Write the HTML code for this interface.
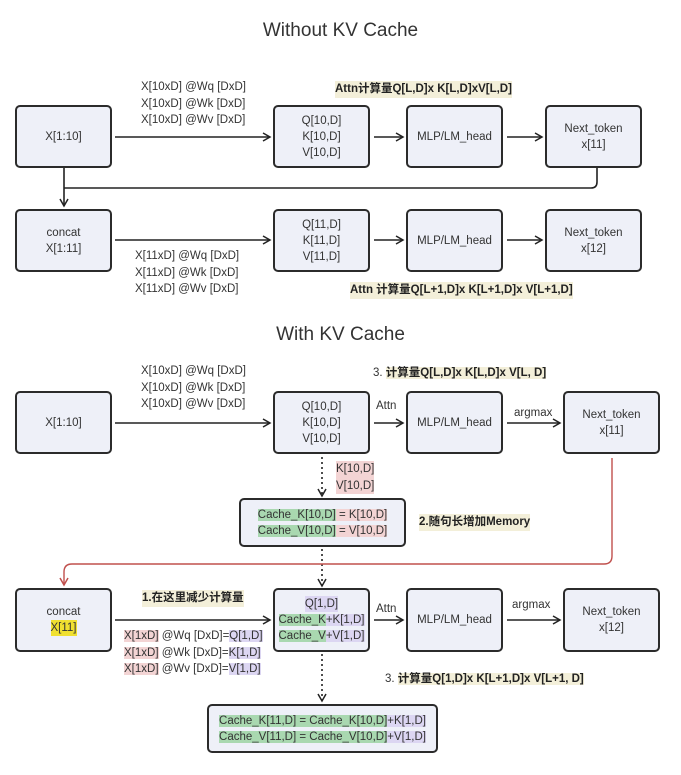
<!DOCTYPE html>
<html><head><meta charset="utf-8"><style>
body{margin:0;width:681px;height:775px;background:#fff;position:relative;overflow:hidden;font-family:"Liberation Sans","Noto Sans CJK SC",sans-serif;color:#333}
.b{position:absolute;box-sizing:border-box;border:2px solid #2b2b2b;border-radius:5px;background:#eef0f8;display:flex;flex-direction:column;align-items:center;justify-content:center;font-size:11.5px;line-height:16px;text-align:center}
.t{position:absolute;font-size:11.5px;line-height:16.5px;white-space:nowrap;color:#333}
.h{position:absolute;font-size:19px;width:681px;text-align:center;color:#333}
.y{background:#f3efd9;font-weight:bold;color:#222}
.p{background:#f3d4d4}.g{background:#a9d8b0}.v{background:#dcd6f2}.yl{background:#f0e030}
svg{position:absolute;left:0;top:0}
</style></head><body>
<div class="h" style="top:20px">Without KV Cache</div>
<div class="h" style="top:324px">With KV Cache</div>
<svg width="681" height="775">
<defs><marker id="a" markerWidth="10" markerHeight="10" refX="8" refY="5" orient="auto" markerUnits="userSpaceOnUse"><path d="M1,1 L8,5 L1,9" fill="none" stroke="#222" stroke-width="1.5"/></marker>
<marker id="r" markerWidth="10" markerHeight="10" refX="8" refY="5" orient="auto" markerUnits="userSpaceOnUse"><path d="M1,1 L8,5 L1,9" fill="none" stroke="#c0504d" stroke-width="1.5"/></marker></defs>
<g stroke="#222" stroke-width="1.6" fill="none" marker-end="url(#a)">
<line x1="115" y1="137" x2="270" y2="137"/><line x1="374" y1="137" x2="403" y2="137"/><line x1="507" y1="137" x2="542" y2="137"/>
<path d="M597,168 V182 Q597,188 591,188 H64" marker-end="none"/><line x1="64" y1="168" x2="64" y2="206"/>
<line x1="115" y1="240" x2="270" y2="240"/><line x1="374" y1="240" x2="403" y2="240"/><line x1="507" y1="240" x2="542" y2="240"/>
<line x1="115" y1="423" x2="270" y2="423"/><line x1="374" y1="423" x2="403" y2="423"/><line x1="507" y1="423" x2="560" y2="423"/>
<line x1="115" y1="620" x2="270" y2="620"/><line x1="374" y1="620" x2="403" y2="620"/><line x1="507" y1="620" x2="560" y2="620"/>
<line x1="322" y1="457" x2="322" y2="496" stroke-dasharray="2,3"/>
<line x1="322" y1="549" x2="322" y2="586" stroke-dasharray="2,3"/>
<line x1="322" y1="654" x2="322" y2="701" stroke-dasharray="2,3"/>
</g>
<path d="M612,458 V556 Q612,564 604,564 H72 Q64,564 64,572 V585" stroke="#c0504d" stroke-width="1.4" fill="none" marker-end="url(#r)"/>
</svg>
<div class="b" style="left:15px;top:105px;width:97px;height:63px">X[1:10]</div>
<div class="b" style="left:273px;top:105px;width:97px;height:63px">Q[10,D]<br>K[10,D]<br>V[10,D]</div>
<div class="b" style="left:406px;top:105px;width:97px;height:63px">MLP/LM_head</div>
<div class="b" style="left:545px;top:105px;width:97px;height:63px">Next_token<br>x[11]</div>
<div class="b" style="left:15px;top:209px;width:97px;height:63px">concat<br>X[1:11]</div>
<div class="b" style="left:273px;top:209px;width:97px;height:63px">Q[11,D]<br>K[11,D]<br>V[11,D]</div>
<div class="b" style="left:406px;top:209px;width:97px;height:63px">MLP/LM_head</div>
<div class="b" style="left:545px;top:209px;width:97px;height:63px">Next_token<br>x[12]</div>
<div class="t" style="left:141px;top:79px">X[10xD] @Wq [DxD]<br>X[10xD] @Wk [DxD]<br>X[10xD] @Wv [DxD]</div>
<div class="t y" style="left:335px;top:81px">Attn计算量Q[L,D]x K[L,D]xV[L,D]</div>
<div class="t" style="left:135px;top:248px">X[11xD] @Wq [DxD]<br>X[11xD] @Wk [DxD]<br>X[11xD] @Wv [DxD]</div>
<div class="t y" style="left:350px;top:282px">Attn 计算量Q[L+1,D]x K[L+1,D]x V[L+1,D]</div>

<div class="b" style="left:15px;top:391px;width:97px;height:63px">X[1:10]</div>
<div class="b" style="left:273px;top:391px;width:97px;height:63px">Q[10,D]<br>K[10,D]<br>V[10,D]</div>
<div class="b" style="left:406px;top:391px;width:97px;height:63px">MLP/LM_head</div>
<div class="b" style="left:563px;top:391px;width:97px;height:63px">Next_token<br>x[11]</div>
<div class="t" style="left:141px;top:363px">X[10xD] @Wq [DxD]<br>X[10xD] @Wk [DxD]<br>X[10xD] @Wv [DxD]</div>
<div class="t" style="left:373px;top:365px">3. <span class="y">计算量Q[L,D]x K[L,D]x V[L, D]</span></div>
<div class="t" style="left:376px;top:398px">Attn</div>
<div class="t" style="left:514px;top:405px">argmax</div>
<div class="t p" style="left:336px;top:461px">K[10,D]<br>V[10,D]</div>
<div class="b" style="left:239px;top:498px;width:167px;height:49px"><div><span class="g">Cache_K[10,D]</span><span class="p"> = K[10,D]</span></div><div><span class="g">Cache_V[10,D]</span><span class="p"> = V[10,D]</span></div></div>
<div class="t y" style="left:419px;top:514px">2.随句长增加Memory</div>

<div class="b" style="left:15px;top:588px;width:97px;height:64px">concat<br><span class="yl">X[11]</span></div>
<div class="b" style="left:273px;top:588px;width:97px;height:64px"><span class="v">Q[1,D]</span><div><span class="g">Cache_K</span><span class="v">+K[1,D]</span></div><div><span class="g">Cache_V</span><span class="v">+V[1,D]</span></div></div>
<div class="b" style="left:406px;top:588px;width:97px;height:64px">MLP/LM_head</div>
<div class="b" style="left:563px;top:588px;width:97px;height:64px">Next_token<br>x[12]</div>
<div class="t y" style="left:142px;top:590px">1.在这里减少计算量</div>
<div class="t" style="left:124px;top:628px"><span class="p">X[1xD]</span> @Wq [DxD]=<span class="v">Q[1,D]</span><br><span class="p">X[1xD]</span> @Wk [DxD]=<span class="v">K[1,D]</span><br><span class="p">X[1xD]</span> @Wv [DxD]=<span class="v">V[1,D]</span></div>
<div class="t" style="left:376px;top:601px">Attn</div>
<div class="t" style="left:512px;top:597px">argmax</div>
<div class="t" style="left:385px;top:671px">3. <span class="y">计算量Q[1,D]x K[L+1,D]x V[L+1, D]</span></div>
<div class="b" style="left:207px;top:704px;width:231px;height:49px"><div><span class="g">Cache_K[11,D] = Cache_K[10,D]</span><span class="v">+K[1,D]</span></div><div><span class="g">Cache_V[11,D] = Cache_V[10,D]</span><span class="v">+V[1,D]</span></div></div>
</body></html>
